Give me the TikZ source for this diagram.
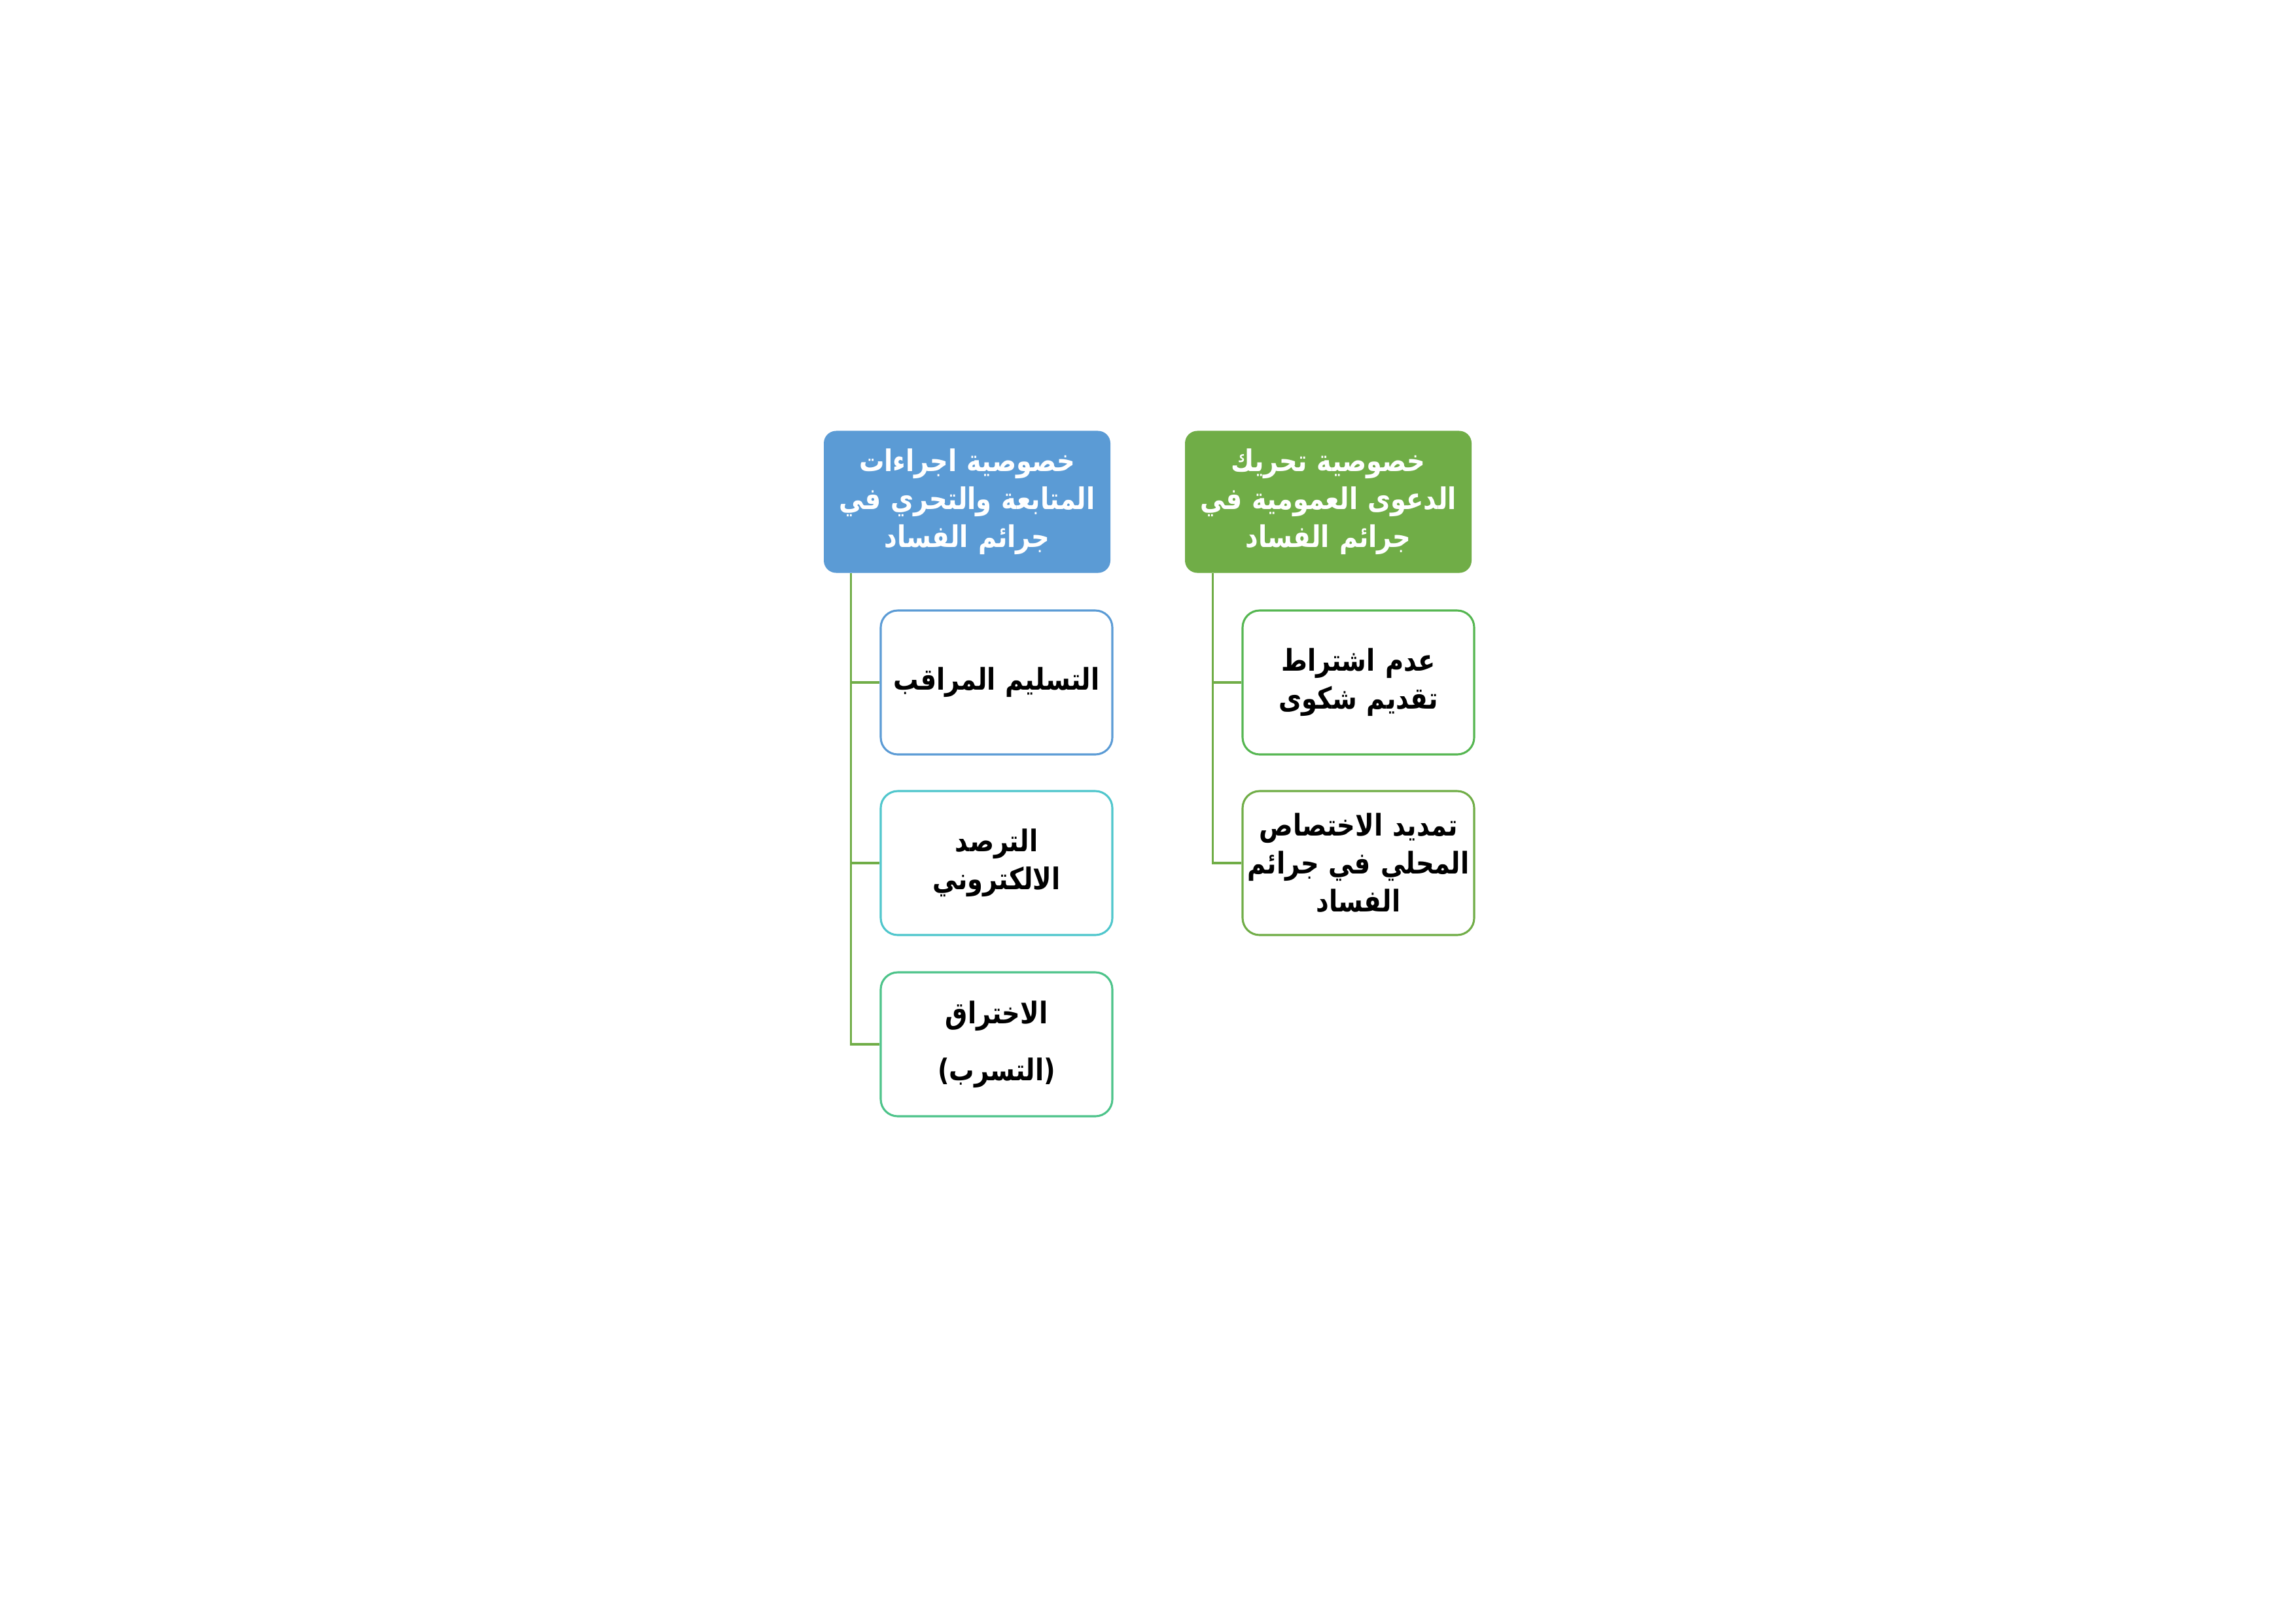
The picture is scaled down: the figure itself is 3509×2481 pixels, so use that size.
\documentclass[tikz,border=0pt]{standalone}
\usepackage{fontspec}
\TeXXeTstate=1
\newfontfamily\arabicfont[Script=Arabic, FakeStretch=0.84]{DejaVu Sans}
\newcommand{\arl}[1]{\beginR #1\endR}
\definecolor{hblue}{HTML}{5B9BD5}
\definecolor{hgreen}{HTML}{70AD47}
\definecolor{cteal}{HTML}{4FC6CC}
\definecolor{cmint}{HTML}{4CC389}
\definecolor{cgreen}{HTML}{55B651}
\tikzset{
  header/.style={rectangle, rounded corners=1.6mm, draw=none, text=white,
    text width=37.07mm, minimum height=18.37mm,
    align=center, inner xsep=0pt, inner ysep=0pt,
    font=\arabicfont\bfseries\fontsize{11}{14}\selectfont},
  child/.style={rectangle, rounded corners=2.2mm, line width=0.75pt, fill=white,
    text width=29.96mm, minimum height=18.62mm,
    align=center, inner xsep=0pt, inner ysep=0pt, text=black,
    font=\arabicfont\bfseries\fontsize{11}{14}\selectfont},
  conn/.style={draw=hgreen, line width=0.75pt}
}
\begin{document}
\begin{tikzpicture}[x=0.084639mm, y=-0.084639mm]
\useasboundingbox (0,0) rectangle (3509,2481);
% headers
\node[header, fill=hblue] (lh) at (1478,767) {\arl{خصوصية اجراءات}\\\arl{المتابعة والتحري في}\\\arl{جرائم الفساد}};
\node[header, fill=hgreen] (rh) at (2030,767) {\arl{خصوصية تحريك}\\\arl{الدعوى العمومية في}\\\arl{جرائم الفساد}};
% left children
\node[child, draw=hblue] (l1) at (1523,1043) {\arl{التسليم المراقب}};
\node[child, draw=cteal] (l2) at (1523,1319) {\arl{الترصد}\\\arl{الالكتروني}};
\node[child, draw=cmint] (l3) at (1523,1596) {\arl{الاختراق}\\[7pt]\arl{(التسرب)}};
% right children
\node[child, draw=cgreen] (r1) at (2076,1043) {\arl{عدم اشتراط}\\\arl{تقديم شكوى}};
\node[child, draw=hgreen] (r2) at (2076,1319) {\arl{تمديد الاختصاص}\\\arl{المحلي في جرائم}\\\arl{الفساد}};
% connectors
\coordinate (lroot) at ([xshift=3.55mm]lh.south west);
\coordinate (rroot) at ([xshift=3.64mm]rh.south west);
\draw[conn] (lroot) |- (l3.west);
\draw[conn] (lroot |- l1.west) -- (l1.west);
\draw[conn] (lroot |- l2.west) -- (l2.west);
\draw[conn] (rroot) |- (r2.west);
\draw[conn] (rroot |- r1.west) -- (r1.west);
\end{tikzpicture}
\end{document}
